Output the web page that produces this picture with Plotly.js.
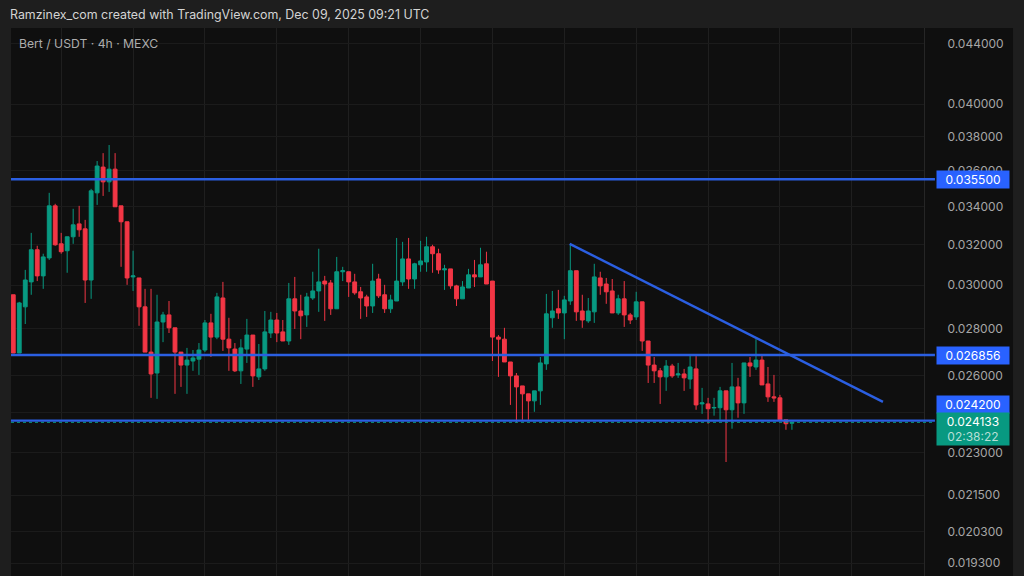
<!DOCTYPE html>
<html>
<head>
<meta charset="utf-8">
<script src="https://cdn.plot.ly/plotly-3.0.1.min.js"></script>
<style>
  html, body { margin: 0; padding: 0; background: #1e1e1e; }
  #chart { width: 1024px; height: 576px; }
</style>
</head>
<body>
<div id="chart"></div>
<script>
var open = [
  0.02955, 0.02694, 0.02899, 0.03016, 0.03174, 0.03045, 0.03133, 0.03403, 0.03204, 0.03169,
  0.03240, 0.03307, 0.03281, 0.03025, 0.03474, 0.03619, 0.03535, 0.03607, 0.03403, 0.03318,
  0.03040, 0.03035, 0.02899, 0.02698, 0.02610, 0.02830, 0.02862, 0.02804, 0.02698, 0.02643,
  0.02660, 0.02668, 0.02707, 0.02826, 0.02763, 0.02940, 0.02754, 0.02711, 0.02619, 0.02711,
  0.02772, 0.02594, 0.02627, 0.02781, 0.02839, 0.02786, 0.02746, 0.02936, 0.02880, 0.02862,
  0.02940, 0.02973, 0.03020, 0.03011, 0.02890, 0.03065, 0.03065, 0.03016, 0.02969, 0.02945,
  0.02903, 0.03030, 0.02955, 0.02890, 0.02926, 0.03016, 0.03128, 0.03030, 0.03099, 0.03113,
  0.03189, 0.03154, 0.03074, 0.03079, 0.02997, 0.02936, 0.02987, 0.03050, 0.03040, 0.03104,
  0.03020, 0.02763, 0.02754, 0.02656, 0.02598, 0.02557, 0.02525, 0.02497, 0.02537, 0.02648,
  0.02849, 0.02890, 0.02871, 0.02926, 0.03070, 0.02880, 0.02835, 0.02876, 0.03035, 0.03006,
  0.02973, 0.02871, 0.02936, 0.02862, 0.02853, 0.02922, 0.02746, 0.02643, 0.02619, 0.02594,
  0.02639, 0.02602, 0.02606, 0.02585, 0.02627, 0.02485, 0.02485, 0.02469, 0.02470, 0.02537,
  0.02462, 0.02553, 0.02489, 0.02652, 0.02635, 0.02664, 0.02565, 0.02513, 0.02509, 0.02423,
  0.02410
];
var high = [
  0.02955, 0.02922, 0.03074, 0.03260, 0.03194, 0.03154, 0.03474, 0.03414, 0.03260, 0.03240,
  0.03387, 0.03403, 0.03328, 0.03496, 0.03654, 0.03700, 0.03748, 0.03700, 0.03403, 0.03318,
  0.03169, 0.03035, 0.02983, 0.02983, 0.02955, 0.02876, 0.02926, 0.02804, 0.02698, 0.02716,
  0.02707, 0.02737, 0.02839, 0.02867, 0.02964, 0.03016, 0.02849, 0.02737, 0.02754, 0.02844,
  0.02772, 0.02733, 0.02880, 0.02876, 0.02871, 0.02839, 0.03011, 0.03040, 0.02955, 0.02964,
  0.03065, 0.03179, 0.03045, 0.03025, 0.03138, 0.03089, 0.03065, 0.03055, 0.02992, 0.02955,
  0.03104, 0.03055, 0.03002, 0.02955, 0.03234, 0.03214, 0.03234, 0.03109, 0.03219, 0.03240,
  0.03199, 0.03179, 0.03099, 0.03079, 0.03002, 0.03020, 0.03079, 0.03123, 0.03184, 0.03164,
  0.03020, 0.02772, 0.02804, 0.02656, 0.02610, 0.02557, 0.02525, 0.02537, 0.02677, 0.02959,
  0.02973, 0.02978, 0.02950, 0.03199, 0.03070, 0.02955, 0.02940, 0.03104, 0.03065, 0.03035,
  0.03030, 0.02955, 0.03020, 0.02871, 0.02969, 0.02922, 0.02746, 0.02677, 0.02631, 0.02664,
  0.02648, 0.02652, 0.02627, 0.02690, 0.02681, 0.02549, 0.02509, 0.02509, 0.02553, 0.02537,
  0.02652, 0.02590, 0.02652, 0.02677, 0.02754, 0.02690, 0.02635, 0.02602, 0.02521, 0.02423,
  0.02415
];
var low = [
  0.02694, 0.02694, 0.02821, 0.02955, 0.03020, 0.02983, 0.03123, 0.03194, 0.03154, 0.03060,
  0.03204, 0.03240, 0.02917, 0.02936, 0.03408, 0.03457, 0.03479, 0.03398, 0.03089, 0.03002,
  0.02973, 0.02813, 0.02698, 0.02509, 0.02505, 0.02741, 0.02781, 0.02525, 0.02553, 0.02525,
  0.02619, 0.02602, 0.02698, 0.02677, 0.02754, 0.02703, 0.02619, 0.02614, 0.02565, 0.02652,
  0.02553, 0.02581, 0.02619, 0.02759, 0.02741, 0.02746, 0.02729, 0.02799, 0.02754, 0.02808,
  0.02931, 0.02876, 0.02835, 0.02862, 0.02890, 0.03020, 0.02945, 0.02955, 0.02844, 0.02853,
  0.02871, 0.02940, 0.02871, 0.02871, 0.02926, 0.02997, 0.02983, 0.02983, 0.03065, 0.03065,
  0.03060, 0.03055, 0.02978, 0.02983, 0.02903, 0.02936, 0.02987, 0.02992, 0.03040, 0.03006,
  0.02660, 0.02594, 0.02656, 0.02481, 0.02412, 0.02423, 0.02423, 0.02454, 0.02481, 0.02623,
  0.02804, 0.02844, 0.02754, 0.02908, 0.02835, 0.02804, 0.02826, 0.02826, 0.02955, 0.02913,
  0.02871, 0.02862, 0.02808, 0.02821, 0.02839, 0.02703, 0.02569, 0.02569, 0.02485, 0.02537,
  0.02590, 0.02590, 0.02537, 0.02545, 0.02462, 0.02446, 0.02408, 0.02439, 0.02423, 0.02266,
  0.02389, 0.02431, 0.02446, 0.02594, 0.02623, 0.02561, 0.02493, 0.02493, 0.02423, 0.02385,
  0.02385
];
var close = [
  0.02694, 0.02917, 0.03025, 0.03174, 0.03045, 0.03138, 0.03403, 0.03199, 0.03164, 0.03240,
  0.03302, 0.03276, 0.03025, 0.03485, 0.03625, 0.03535, 0.03607, 0.03398, 0.03318, 0.03035,
  0.03045, 0.02899, 0.02698, 0.02606, 0.02830, 0.02862, 0.02804, 0.02698, 0.02643, 0.02664,
  0.02673, 0.02707, 0.02826, 0.02763, 0.02945, 0.02754, 0.02716, 0.02619, 0.02716, 0.02772,
  0.02598, 0.02627, 0.02786, 0.02839, 0.02781, 0.02746, 0.02936, 0.02880, 0.02858, 0.02945,
  0.02973, 0.03016, 0.03006, 0.02890, 0.03065, 0.03070, 0.03016, 0.02964, 0.02940, 0.02903,
  0.03020, 0.02950, 0.02890, 0.02931, 0.03020, 0.03128, 0.03030, 0.03104, 0.03118, 0.03189,
  0.03154, 0.03074, 0.03079, 0.02997, 0.02936, 0.02992, 0.03050, 0.03040, 0.03099, 0.03006,
  0.02763, 0.02754, 0.02656, 0.02598, 0.02553, 0.02525, 0.02497, 0.02537, 0.02652, 0.02867,
  0.02880, 0.02871, 0.02931, 0.03070, 0.02876, 0.02839, 0.02880, 0.03040, 0.02997, 0.02969,
  0.02871, 0.02936, 0.02862, 0.02839, 0.02922, 0.02746, 0.02643, 0.02619, 0.02594, 0.02639,
  0.02598, 0.02606, 0.02590, 0.02635, 0.02481, 0.02489, 0.02466, 0.02471, 0.02537, 0.02462,
  0.02553, 0.02489, 0.02652, 0.02639, 0.02664, 0.02561, 0.02513, 0.02509, 0.02423, 0.02408,
  0.024133
];

var tickPrices = [0.044, 0.040, 0.038, 0.036, 0.034, 0.032, 0.030, 0.028, 0.026, 0.0245, 0.023, 0.0215, 0.0203, 0.0193];
// the 0.0245 label is hidden behind the price labels in the picture, only its grid line shows
var tickLabels = ['0.044000', '0.040000', '0.038000', '0.036000', '0.034000', '0.032000', '0.030000',
  '0.028000', '0.026000', '', '0.023000', '0.021500', '0.020300', '0.019300'];
var timeTicks = [8, 20, 32, 44, 56, 68, 80, 92, 104, 116, 128, 140];

var levels = [0.0355, 0.026856, 0.0242];
var levelLabels = ['0.035500', '0.026856', '0.024200'];
var levelShift = [0, 0, 16];
var lastPrice = 0.024133;
var countdown = '02:38:22';
var trendX = [92.9, 145.2];
var trendY = [0.03204, 0.02493];

var GREEN = '#089981', RED = '#f23645', BLUE = '#2962ff', LINE = '#2b5fe2';
var FONT = 'Inter, "Noto Sans", sans-serif';

var idx = [];
for (var i = 0; i < open.length; i++) idx.push(i);

var candles = {
  type: 'candlestick',
  x: idx, open: open, high: high, low: low, close: close,
  increasing: { line: { color: GREEN, width: 1 }, fillcolor: GREEN },
  decreasing: { line: { color: RED, width: 1 }, fillcolor: RED },
  whiskerwidth: 0,
  hoverinfo: 'skip'
};

var trend = {
  type: 'scatter', mode: 'lines',
  x: trendX, y: trendY,
  line: { color: LINE, width: 2.4 },
  hoverinfo: 'skip'
};

// price lines run a little past the axis, up to the label
var shapes = [{
  type: 'rect', xref: 'paper', yref: 'paper', layer: 'below',
  x0: 1, x1: 1.0975, y0: 0, y1: 1,
  fillcolor: '#0f0f0f', line: { width: 0 }
}];
shapes.push({
  type: 'line', xref: 'paper', yref: 'y', x0: 0, x1: 1.012, y0: lastPrice, y1: lastPrice,
  line: { color: GREEN, width: 1, dash: 'dot' }
});
levels.forEach(function (v) {
  shapes.push({
    type: 'line', xref: 'paper', yref: 'y', x0: 0, x1: 1.012, y0: v, y1: v,
    line: { color: LINE, width: 2.4 }
  });
});

var labelX = (936 - 11) / 913;
var annotations = levels.map(function (v, k) {
  return {
    xref: 'paper', yref: 'y', x: labelX, y: Math.log10(v), yshift: levelShift[k],
    xanchor: 'left', yanchor: 'middle', showarrow: false,
    text: levelLabels[k], width: 72, height: 17, borderpad: 0,
    bgcolor: BLUE, font: { family: FONT, size: 12, color: '#ffffff' }
  };
});
annotations.push({
  xref: 'paper', yref: 'y', x: labelX, y: Math.log10(lastPrice), yshift: -7,
  xanchor: 'left', yanchor: 'middle', showarrow: false,
  text: lastPrice.toFixed(6) + '<br><span style="color:#b5dfd6">' + countdown + '</span>',
  width: 72, height: 32, borderpad: 0,
  bgcolor: GREEN, font: { family: FONT, size: 12, color: '#ffffff' }
});
annotations.push({
  xref: 'paper', yref: 'paper', x: 6 / 913, y: 1 - 16 / 548,
  xanchor: 'left', yanchor: 'middle', showarrow: false,
  text: 'Bert / USDT · 4h · MEXC',
  font: { family: FONT, size: 12.2, color: '#adadad' }
});

var layout = {
  width: 1024, height: 576,
  margin: { l: 11, r: 100, t: 28, b: 0, pad: 0 },
  paper_bgcolor: '#1e1e1e',
  plot_bgcolor: '#0f0f0f',
  showlegend: false,
  hovermode: false,
  boxgap: 0.2,
  boxgroupgap: 0.2,
  title: {
    text: 'Ramzinex_com created with TradingView.com, Dec 09, 2025 09:21 UTC',
    xref: 'container', x: 10 / 1024, xanchor: 'left',
    yref: 'container', y: 1 - 15 / 576, yanchor: 'middle',
    font: { family: FONT, size: 12.4, color: '#d4d4d4' }
  },
  xaxis: {
    type: 'linear',
    range: [-0.38, 152.05],
    rangeslider: { visible: false },
    tickmode: 'array', tickvals: timeTicks,
    showticklabels: false, ticks: '',
    showgrid: true, gridcolor: '#1f1f1f', gridwidth: 1,
    zeroline: false, showline: false
  },
  yaxis: {
    type: 'log', side: 'right',
    range: [Math.log10(0.01891), Math.log10(0.04513)],
    tickmode: 'array', tickvals: tickPrices, ticktext: tickLabels,
    ticks: 'outside', ticklen: 20, tickcolor: 'rgba(0,0,0,0)',
    tickfont: { family: FONT, size: 12, color: '#a6a6a6' },
    showgrid: true, gridcolor: '#1b1b1b', gridwidth: 1,
    zeroline: false,
    showline: true, linecolor: '#262626', linewidth: 1,
    automargin: false
  },
  shapes: shapes,
  annotations: annotations
};

Plotly.newPlot('chart', [candles, trend], layout, { displayModeBar: false, staticPlot: true });
</script>
</body>
</html>
